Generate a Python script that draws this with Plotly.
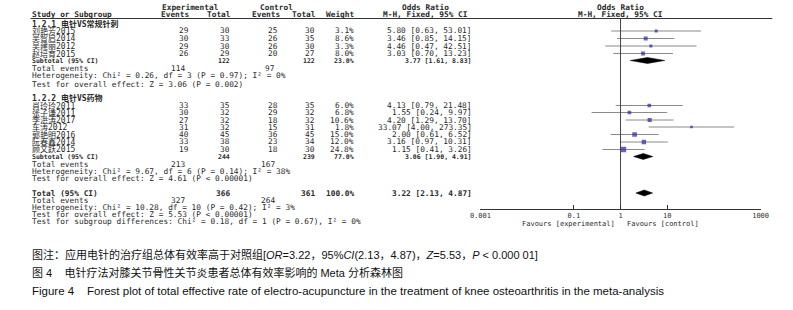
import plotly.graph_objects as go

W, H = 793, 310

# ---------------- data ----------------
g1_title = "1.2.1 电针VS常规针刺"
g1_studies = ["刘艳芳2015", "吴智启2014", "吴建丽2012", "赵培育2015"]
g1_exp_events = [29, 30, 29, 26]
g1_exp_total = [30, 33, 30, 29]
g1_ctl_events = [25, 26, 26, 20]
g1_ctl_total = [30, 35, 30, 27]
g1_weight = [3.1, 8.6, 3.3, 8.0]
g1_or = [5.80, 3.46, 4.46, 3.03]
g1_lo = [0.63, 0.85, 0.47, 0.70]
g1_hi = [53.01, 14.15, 42.51, 13.23]
g1_sub = {"exp_total": 122, "ctl_total": 122, "weight": 23.0, "or": 3.77, "lo": 1.61, "hi": 8.83,
          "exp_events": 114, "ctl_events": 97}
g1_het = "Heterogeneity: Chi² = 0.26, df = 3 (P = 0.97); I² = 0%"
g1_test = "Test for overall effect: Z = 3.06 (P = 0.002)"

g2_title = "1.2.2 电针VS药物"
g2_studies = ["肖玲玲2011", "张子谦2011", "李洪涛2017", "车涛2012", "郭艳明2016", "阮春鑫2014", "顾文跃2015"]
g2_exp_events = [33, 30, 27, 31, 40, 33, 19]
g2_exp_total = [35, 32, 32, 32, 45, 38, 30]
g2_ctl_events = [28, 29, 18, 15, 36, 23, 18]
g2_ctl_total = [35, 32, 32, 31, 45, 34, 30]
g2_weight = [6.0, 6.8, 10.6, 1.8, 15.0, 12.0, 24.8]
g2_or = [4.13, 1.55, 4.20, 33.07, 2.00, 3.16, 1.15]
g2_lo = [0.79, 0.24, 1.29, 4.00, 0.61, 0.97, 0.41]
g2_hi = [21.48, 9.97, 13.70, 273.35, 6.52, 10.31, 3.26]
g2_sub = {"exp_total": 244, "ctl_total": 239, "weight": 77.0, "or": 3.06, "lo": 1.90, "hi": 4.91,
          "exp_events": 213, "ctl_events": 167}
g2_het = "Heterogeneity: Chi² = 9.67, df = 6 (P = 0.14); I² = 38%"
g2_test = "Test for overall effect: Z = 4.61 (P < 0.00001)"

tot = {"exp_total": 366, "ctl_total": 361, "weight": 100.0, "or": 3.22, "lo": 2.13, "hi": 4.87,
       "exp_events": 327, "ctl_events": 264}
tot_het = "Heterogeneity: Chi² = 10.28, df = 10 (P = 0.42); I² = 3%"
tot_test = "Test for overall effect: Z = 5.53 (P < 0.00001)"
sub_test = "Test for subgroup differences: Chi² = 0.18, df = 1 (P = 0.67), I² = 0%"

tick_vals = [0.001, 0.1, 1, 10, 1000]
tick_text = ["0.001", "0.1", "1", "10", "1000"]
fav_left = "Favours [experimental]"
fav_right = "Favours [control]"

caption1 = ("图注：应用电针的治疗组总体有效率高于对照组[<i>OR</i>=3.22，95%<i>CI</i>(2.13，4.87)，"
            "<i>Z</i>=5.53，<i>P</i>\u00a0&lt;\u00a00.000\u00a001]")
caption2 = "图 4\u00a0\u00a0\u00a0\u00a0电针疗法对膝关节骨性关节炎患者总体有效率影响的 Meta 分析森林图"
caption3 = ("Figure 4\u00a0\u00a0\u00a0\u00a0Forest plot of total effective rate of electro-acupuncture "
            "in the treatment of knee osteoarthritis in the meta-analysis")

# ---------------- layout constants (pixels) ----------------
g1_rows = [31, 38.5, 46, 53.5]
g1_sub_y, g1_ev_y, g1_het_y, g1_test_y, g1_title_y = 60.5, 68.5, 76, 84, 24
g2_rows = [105.5, 112.5, 120, 127, 134.5, 142, 149.5]
g2_sub_y, g2_ev_y, g2_het_y, g2_test_y, g2_title_y = 156.5, 164, 171, 178.5, 98
tot_y, tot_ev_y, tot_het_y, tot_test_y, sub_test_y = 193, 200.5, 207.5, 214.5, 221.5
AXIS_Y = 209
X_NAME, X_EE, X_ET, X_CE, X_CT, X_W, X_OR = 20, 183, 225, 275, 312, 352, 473
X_FOREST_C = 624.5

TFONT = "DejaVu Sans Mono, Noto Sans CJK SC"
TSIZE = 7.8
TCOL = "#2a2a2a"

annotations = []


def px(x):
    return x / W


def py(y):
    return 1 - y / H


def txt(x, y, s, anchor="left", size=TSIZE, family=TFONT, color=TCOL):
    annotations.append(dict(x=px(x), y=py(y), xref="paper", yref="paper", text=s, showarrow=False,
                            xanchor=anchor, yanchor="middle", borderpad=0,
                            font=dict(family=family, size=size, color=color)))


# headers
txt(184, 7, "<b>Experimental</b>", "center")
txt(272, 7, "<b>Control</b>", "center")
txt(425, 7, "<b>Odds Ratio</b>", "center")
txt(X_FOREST_C, 7, "<b>Odds Ratio</b>", "center")
txt(X_NAME, 14, "<b>Study or Subgroup</b>")
txt(X_EE, 14, "<b>Events</b>", "right")
txt(X_ET + 1, 14, "<b>Total</b>", "right")
txt(X_CE + 2, 14, "<b>Events</b>", "right")
txt(X_CT + 2, 14, "<b>Total</b>", "right")
txt(X_W, 14, "<b>Weight</b>", "right")
txt(425, 14, "<b>M-H, Fixed, 95% CI</b>", "center")
txt(X_FOREST_C, 14, "<b>M-H, Fixed, 95% CI</b>", "center")


def study_rows(names, ee, et, ce, ct, w, orr, lo, hi, ys):
    for i, y in enumerate(ys):
        txt(X_NAME, y, names[i], size=8)
        txt(X_EE, y, str(ee[i]), "right")
        txt(X_ET, y, str(et[i]), "right")
        txt(X_CE, y, str(ce[i]), "right")
        txt(X_CT, y, str(ct[i]), "right")
        txt(X_W, y, f"{w[i]:.1f}%", "right")
        txt(X_OR, y, f"{orr[i]:.2f} [{lo[i]:.2f}, {hi[i]:.2f}]", "right")


def summary_rows(label, s, y, ev_y, size):
    txt(X_NAME, y, f"<b>{label}</b>", size=size)
    txt(X_ET, y, f"<b>{s['exp_total']}</b>", "right", size=size)
    txt(X_CT, y, f"<b>{s['ctl_total']}</b>", "right", size=size)
    txt(X_W, y, f"<b>{s['weight']:.1f}%</b>", "right", size=size)
    txt(X_OR, y, f"<b>{s['or']:.2f} [{s['lo']:.2f}, {s['hi']:.2f}]</b>", "right", size=size)
    txt(X_NAME, ev_y, "Total events")
    txt(X_EE - 4, ev_y, str(s["exp_events"]), "right")
    txt(X_CE - 3, ev_y, str(s["ctl_events"]), "right")


txt(X_NAME, g1_title_y, f"<b>{g1_title}</b>", size=8)
study_rows(g1_studies, g1_exp_events, g1_exp_total, g1_ctl_events, g1_ctl_total, g1_weight,
           g1_or, g1_lo, g1_hi, g1_rows)
summary_rows("Subtotal (95% CI)", g1_sub, g1_sub_y, g1_ev_y, 6.5)
txt(X_NAME, g1_het_y, g1_het)
txt(X_NAME, g1_test_y, g1_test)

txt(X_NAME, g2_title_y, f"<b>{g2_title}</b>", size=8)
study_rows(g2_studies, g2_exp_events, g2_exp_total, g2_ctl_events, g2_ctl_total, g2_weight,
           g2_or, g2_lo, g2_hi, g2_rows)
summary_rows("Subtotal (95% CI)", g2_sub, g2_sub_y, g2_ev_y, 6.5)
txt(X_NAME, g2_het_y, g2_het)
txt(X_NAME, g2_test_y, g2_test)

summary_rows("Total (95% CI)", tot, tot_y, tot_ev_y, TSIZE)
txt(X_NAME, tot_het_y, tot_het)
txt(X_NAME, tot_test_y, tot_test)
txt(X_NAME, sub_test_y, sub_test)

txt(620, 224, fav_left, "right", size=7)
txt(630, 224, fav_right, "left", size=7)

CFONT = "Liberation Sans, Noto Sans CJK SC"
txt(20, 254, caption1, size=11, family=CFONT, color="#111111")
txt(20, 272, caption2, size=11, family=CFONT, color="#111111")
txt(20, 291, caption3, size=11.5, family=CFONT, color="#111111")

# ---------------- forest traces ----------------
fig = go.Figure()

all_or = g1_or + g2_or
all_lo = g1_lo + g2_lo
all_hi = g1_hi + g2_hi
all_w = g1_weight + g2_weight
all_y = g1_rows + g2_rows

ci_x, ci_y = [], []
for lo, hi, y in zip(all_lo, all_hi, all_y):
    ci_x += [lo, hi, None]
    ci_y += [y, y, None]
fig.add_trace(go.Scatter(x=ci_x, y=ci_y, mode="lines", line=dict(color="#8a8a8a", width=1),
                         hoverinfo="skip", showlegend=False))

fig.add_trace(go.Scatter(x=all_or, y=all_y, mode="markers",
                         marker=dict(symbol="square", color="#2727a8",
                                     size=[1.6 + wt ** 0.5 * 0.8 for wt in all_w], line=dict(width=0)),
                         hoverinfo="skip", showlegend=False))

dx, dy = [], []
for s, y in [(g1_sub, g1_sub_y), (g2_sub, g2_sub_y), (tot, tot_y)]:
    dx += [s["lo"], s["or"], s["hi"], s["or"], s["lo"], None]
    dy += [y, y - 3, y, y + 3, y, None]
fig.add_trace(go.Scatter(x=dx, y=dy, mode="lines", fill="toself", fillcolor="black",
                         line=dict(color="black", width=0.5), hoverinfo="skip", showlegend=False))

# line of no effect
fig.add_trace(go.Scatter(x=[1, 1], y=[18.5, AXIS_Y], mode="lines", line=dict(color="#444444", width=1),
                         hoverinfo="skip", showlegend=False))

shapes = [dict(type="line", xref="paper", yref="paper", x0=px(20), x1=px(780), y0=py(18.5), y1=py(18.5),
               line=dict(color="#333333", width=1))]

fig.update_layout(
    width=W, height=H, margin=dict(l=0, r=0, t=0, b=0),
    paper_bgcolor="white", plot_bgcolor="rgba(0,0,0,0)",
    showlegend=False,
    annotations=annotations, shapes=shapes,
    xaxis=dict(type="log", range=[-3, 3], domain=[481 / W, 768 / W], anchor="y",
               tickvals=tick_vals, ticktext=tick_text, ticks="inside", ticklen=4, tickcolor="#333333",
               showline=True, linecolor="#333333", linewidth=1, showgrid=False, zeroline=False,
               tickfont=dict(family="DejaVu Sans Mono", size=7, color="#333333")),
    yaxis=dict(range=[AXIS_Y, 0], domain=[(H - AXIS_Y) / H, 1], visible=False, showgrid=False,
               zeroline=False),
)

fig.write_html("out.html", post_script="document.body.style.margin='0';",
               config={"displayModeBar": False})
